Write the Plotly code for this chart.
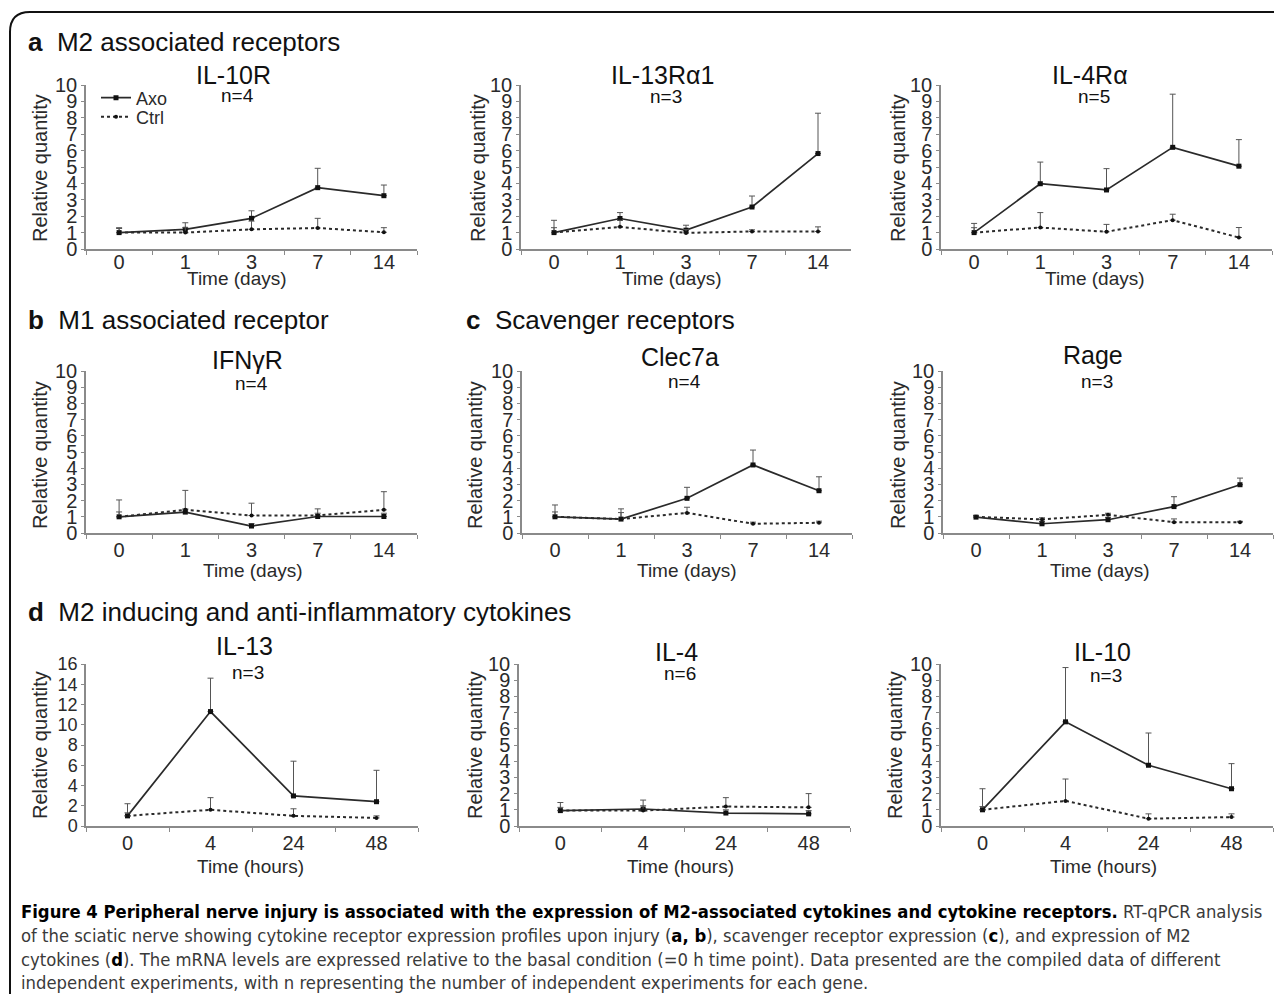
import plotly.graph_objects as go

# ---------------- data ----------------
days = ["0", "1", "3", "7", "14"]
hours = ["0", "4", "24", "48"]

il10r_axo = [1.0, 1.2, 1.87, 3.74, 3.25]
il10r_axo_err = [0.3, 0.4, 0.46, 1.18, 0.65]
il10r_ctrl = [1.0, 1.0, 1.2, 1.28, 1.02]
il10r_ctrl_err = [0.25, 0.3, 0.5, 0.59, 0.28]

il13ra1_axo = [1.0, 1.86, 1.15, 2.56, 5.82]
il13ra1_axo_err = [0.75, 0.36, 0.3, 0.67, 2.46]
il13ra1_ctrl = [1.0, 1.35, 0.98, 1.07, 1.07]
il13ra1_ctrl_err = [0.3, 0.4, 0.2, 0.1, 0.28]

il4ra_axo = [1.0, 3.98, 3.6, 6.2, 5.05]
il4ra_axo_err = [0.56, 1.32, 1.3, 3.24, 1.62]
il4ra_ctrl = [1.0, 1.31, 1.05, 1.76, 0.7]
il4ra_ctrl_err = [0.3, 0.91, 0.45, 0.36, 0.61]

ifngr_axo = [1.0, 1.29, 0.43, 1.02, 1.02]
ifngr_axo_err = [1.04, 0.2, 0.15, 0.2, 0.2]
ifngr_ctrl = [1.0, 1.43, 1.08, 1.08, 1.43]
ifngr_ctrl_err = [0.3, 1.2, 0.76, 0.41, 1.12]

clec7a_axo = [1.0, 0.86, 2.14, 4.2, 2.61]
clec7a_axo_err = [0.73, 0.63, 0.68, 0.92, 0.86]
clec7a_ctrl = [1.0, 0.86, 1.24, 0.57, 0.63]
clec7a_ctrl_err = [0.3, 0.4, 0.35, 0.1, 0.1]

rage_axo = [0.98, 0.57, 0.82, 1.63, 2.98]
rage_axo_err = [0.1, 0.15, 0.15, 0.61, 0.41]
rage_ctrl = [1.0, 0.84, 1.12, 0.67, 0.67]
rage_ctrl_err = [0.05, 0.1, 0.1, 0.2, 0.05]

il13_axo = [1.0, 11.3, 2.97, 2.4]
il13_axo_err = [1.2, 3.3, 3.43, 3.1]
il13_ctrl = [1.0, 1.6, 1.0, 0.8]
il13_ctrl_err = [0.3, 1.2, 0.7, 0.2]

il4_axo = [0.95, 1.05, 0.8, 0.75]
il4_axo_err = [0.5, 0.55, 0.2, 0.2]
il4_ctrl = [0.95, 0.95, 1.2, 1.15]
il4_ctrl_err = [0.2, 0.3, 0.55, 0.85]

il10_axo = [1.0, 6.43, 3.75, 2.3]
il10_axo_err = [1.3, 3.35, 1.99, 1.55]
il10_ctrl = [1.0, 1.55, 0.45, 0.55]
il10_ctrl_err = [0.2, 1.35, 0.3, 0.2]

genes = ["IL-10R", "IL-13Rα1", "IL-4Rα", "IFNγR", "Clec7a", "Rage", "IL-13", "IL-4", "IL-10"]
n_labels = ["n=4", "n=3", "n=5", "n=4", "n=4", "n=3", "n=3", "n=6", "n=3"]
sections = [("a", "M2 associated receptors"), ("b", "M1 associated receptor"),
            ("c", "Scavenger receptors"), ("d", "M2 inducing and anti-inflammatory cytokines")]

# ---------------- layout helpers ----------------
OX, OY = 8, 8            # page body margin
W, H = 1274, 986         # figure size so that the page fits the window
def fx(p):
    return (p - OX) / W
def fy(p):
    return 1 - (p - OY) / H

FONT = "Liberation Sans, Arial, sans-serif"
DARK = "#2a2a2a"
AXC = "#8a8a8a"

panels = [
    dict(gene=0, x=(86, 417), y=(249, 85), ymax=10, dt=1, cats=days, so=-6, data=(il10r_axo, il10r_axo_err, il10r_ctrl, il10r_ctrl_err),
         xt="Time (days)", xtx=237, xty=278, ytx=40, yty=168, tx=233, ty=75, ny=95),
    dict(gene=1, x=(521, 851), y=(249, 85), ymax=10, dt=1, cats=days, so=-6, data=(il13ra1_axo, il13ra1_axo_err, il13ra1_ctrl, il13ra1_ctrl_err),
         xt="Time (days)", xtx=672, xty=278, ytx=478, yty=168, tx=662, ty=75, ny=97),
    dict(gene=2, x=(941, 1272), y=(249, 85), ymax=10, dt=1, cats=days, so=-6, data=(il4ra_axo, il4ra_axo_err, il4ra_ctrl, il4ra_ctrl_err),
         xt="Time (days)", xtx=1095, xty=278, ytx=898, yty=168, tx=1090, ty=75, ny=97),
    dict(gene=3, x=(86, 417), y=(533, 371), ymax=10, dt=1, cats=days, so=-2, data=(ifngr_axo, ifngr_axo_err, ifngr_ctrl, ifngr_ctrl_err),
         xt="Time (days)", xtx=253, xty=570, ytx=40, yty=455, tx=247, ty=360, ny=383),
    dict(gene=4, x=(522, 852), y=(533, 371), ymax=10, dt=1, cats=days, so=-2, data=(clec7a_axo, clec7a_axo_err, clec7a_ctrl, clec7a_ctrl_err),
         xt="Time (days)", xtx=687, xty=570, ytx=475, yty=455, tx=680, ty=357, ny=381),
    dict(gene=5, x=(943, 1273), y=(533, 371), ymax=10, dt=1, cats=days, so=-2, data=(rage_axo, rage_axo_err, rage_ctrl, rage_ctrl_err),
         xt="Time (days)", xtx=1100, xty=570, ytx=898, yty=455, tx=1093, ty=355, ny=381),
    dict(gene=6, x=(86, 418), y=(826, 664), ymax=16, dt=2, cats=hours, so=-2, data=(il13_axo, il13_axo_err, il13_ctrl, il13_ctrl_err),
         xt="Time (hours)", xtx=250, xty=866, ytx=40, yty=745, tx=244, ty=646, ny=672),
    dict(gene=7, x=(519, 850), y=(826, 664), ymax=10, dt=1, cats=hours, so=-2, data=(il4_axo, il4_axo_err, il4_ctrl, il4_ctrl_err),
         xt="Time (hours)", xtx=680, xty=866, ytx=475, yty=745, tx=676, ty=652, ny=673),
    dict(gene=8, x=(941, 1273), y=(826, 664), ymax=10, dt=1, cats=hours, so=-2, data=(il10_axo, il10_axo_err, il10_ctrl, il10_ctrl_err),
         xt="Time (hours)", xtx=1103, xty=866, ytx=895, yty=745, tx=1102, ty=652, ny=675),
]

fig = go.Figure()
layout = dict(
    width=W, height=H, margin=dict(l=0, r=0, t=0, b=0, pad=0, autoexpand=False),
    paper_bgcolor="white", plot_bgcolor="white",
    font=dict(family=FONT, color=DARK),
    showlegend=True,
    legend=dict(x=fx(96), y=fy(98), xanchor="left", yanchor="middle", bgcolor="rgba(0,0,0,0)",
                font=dict(size=18, family=FONT, color=DARK), itemwidth=30, borderwidth=0),
    legend2=dict(x=fx(96), y=fy(117), xanchor="left", yanchor="middle", bgcolor="rgba(0,0,0,0)",
                 font=dict(size=18, family=FONT, color=DARK), itemwidth=30, borderwidth=0),
)
annotations = []

for i, p in enumerate(panels):
    k = "" if i == 0 else str(i + 1)
    xa, ya = "x" + k, "y" + k
    axo, axo_err, ctrl, ctrl_err = p["data"]
    n = len(p["cats"])
    fig.add_trace(go.Scatter(
        x=p["cats"], y=axo, xaxis=xa, yaxis=ya, name="Axo", showlegend=(i == 0), legend="legend",
        mode="lines+markers", line=dict(color=DARK, width=1.7),
        marker=dict(symbol="square", size=5, color="#111"),
        error_y=dict(type="data", array=axo_err, arrayminus=[0] * n, symmetric=False,
                     thickness=1, width=3, color="#555"),
    ))
    fig.add_trace(go.Scatter(
        x=p["cats"], y=ctrl, xaxis=xa, yaxis=ya, name="Ctrl", showlegend=(i == 0), legend="legend2",
        mode="lines+markers", line=dict(color=DARK, width=2, dash="dot"),
        marker=dict(symbol="circle", size=4, color="#111"),
        error_y=dict(type="data", array=ctrl_err, arrayminus=[0] * n, symmetric=False,
                     thickness=1, width=3, color="#555"),
    ))
    layout["xaxis" + k] = dict(
        domain=[fx(p["x"][0]), fx(p["x"][1])], anchor=ya, type="category", automargin=False,
        categoryorder="array", categoryarray=p["cats"], range=[-0.5, n - 0.5],
        showline=True, linecolor=AXC, linewidth=1.5, showgrid=False, zeroline=False,
        ticks="outside", tickson="boundaries", ticklen=4, tickcolor=AXC, ticklabelstandoff=p["so"],
        tickfont=dict(size=20, family=FONT, color=DARK), fixedrange=True,
    )
    layout["yaxis" + k] = dict(
        domain=[fy(p["y"][0]), fy(p["y"][1])], anchor=xa, range=[0, p["ymax"]], automargin=False,
        tick0=0, dtick=p["dt"], showline=True, linecolor=AXC, linewidth=1.5,
        showgrid=False, zeroline=False, ticks="outside", ticklen=3, tickcolor=AXC,
        tickfont=dict(size=20 if p["dt"] == 1 else 18, family=FONT, color=DARK), fixedrange=True,
    )
    annotations.append(dict(text=genes[p["gene"]], x=fx(p["tx"]), y=fy(p["ty"]), xref="paper", yref="paper",
                            showarrow=False, xanchor="center", yanchor="middle",
                            font=dict(size=25, family=FONT, color="#111")))
    annotations.append(dict(text=n_labels[p["gene"]], x=fx(p["tx"] + 4), y=fy(p["ny"]), xref="paper", yref="paper",
                            showarrow=False, xanchor="center", yanchor="middle",
                            font=dict(size=19, family=FONT, color="#111")))
    annotations.append(dict(text=p["xt"], x=fx(p["xtx"]), y=fy(p["xty"]), xref="paper", yref="paper",
                            showarrow=False, xanchor="center", yanchor="middle",
                            font=dict(size=19, family=FONT, color=DARK)))
    annotations.append(dict(text="Relative quantity", x=fx(p["ytx"]), y=fy(p["yty"]), xref="paper", yref="paper",
                            showarrow=False, xanchor="center", yanchor="middle", textangle=-90,
                            font=dict(size=20, family=FONT, color=DARK)))

section_pos = [(26, 42), (26, 320), (464, 320), (26, 612)]
for (letter, label), (sx, sy) in zip(sections, section_pos):
    annotations.append(dict(text="<b>" + letter + "</b>&nbsp;&nbsp;" + label, x=fx(sx), y=fy(sy),
                            xref="paper", yref="paper", showarrow=False, xanchor="left", yanchor="middle",
                            font=dict(size=26, family=FONT, color="#111")))

B = "<b><span style='color:#000'>"
E = "</span></b>"
caption = (B + "Figure 4 Peripheral nerve injury is associated with the expression of M2-associated cytokines and cytokine receptors." + E + " RT-qPCR analysis<br>"
           "of the sciatic nerve showing cytokine receptor expression profiles upon injury (" + B + "a, b" + E + "), scavenger receptor expression (" + B + "c" + E + "), and expression of M2<br>"
           "cytokines (" + B + "d" + E + "). The mRNA levels are expressed relative to the basal condition (=0 h time point). Data presented are the compiled data of different<br>"
           "independent experiments, with n representing the number of independent experiments for each gene.")
annotations.append(dict(text=caption, x=fx(19), y=fy(899), xref="paper", yref="paper", showarrow=False,
                        xanchor="left", yanchor="top", align="left",
                        font=dict(size=18.3, family="Liberation Sans Narrow, Arial Narrow, DejaVu Sans Condensed, sans-serif", color="#3a3a3a")))

layout["annotations"] = annotations
layout["shapes"] = [dict(
    type="path", xref="paper", yref="paper",
    path=f"M {fx(1282)},{fy(12)} L {fx(30)},{fy(12)} Q {fx(10)},{fy(12)} {fx(10)},{fy(32)} L {fx(10)},{fy(994)}",
    line=dict(color="#111", width=2),
)]

fig.update_layout(**layout)
fig.write_html("out.html")
